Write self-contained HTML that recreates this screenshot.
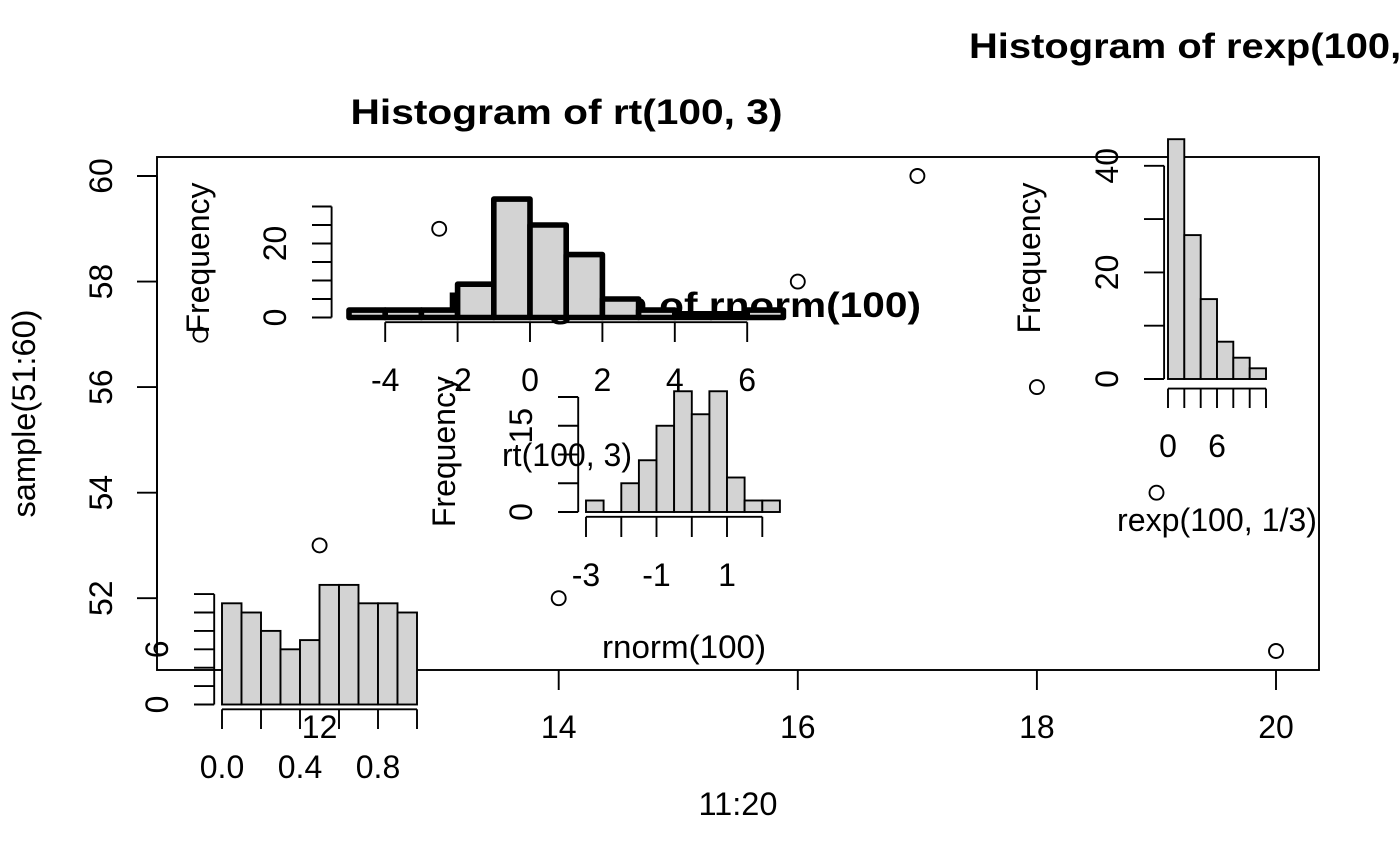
<!DOCTYPE html>
<html><head><meta charset="utf-8"><style>
html,body{margin:0;padding:0;background:#fff;width:1400px;height:866px;overflow:hidden}
svg{display:block}
text{font-family:"Liberation Sans",Arial,sans-serif;font-size:32px;fill:#000}
.b{font-weight:bold;font-size:35px}
</style></head><body>
<svg width="1400" height="866" viewBox="0 0 1400 866" xmlns="http://www.w3.org/2000/svg">
<rect x="0" y="0" width="1400" height="866" fill="#fff"/>
<g stroke="#000" stroke-width="1.9" fill="none">
<rect x="157" y="157" width="1162" height="513"/>
<line x1="157" y1="176" x2="157" y2="598.2"/>
<line x1="137" y1="176" x2="157" y2="176"/>
<line x1="137" y1="281.6" x2="157" y2="281.6"/>
<line x1="137" y1="387.1" x2="157" y2="387.1"/>
<line x1="137" y1="492.7" x2="157" y2="492.7"/>
<line x1="137" y1="598.2" x2="157" y2="598.2"/>
<line x1="319.6" y1="670" x2="319.6" y2="690"/>
<line x1="558.7" y1="670" x2="558.7" y2="690"/>
<line x1="797.8" y1="670" x2="797.8" y2="690"/>
<line x1="1036.9" y1="670" x2="1036.9" y2="690"/>
<line x1="1276" y1="670" x2="1276" y2="690"/>
<circle cx="200.4" cy="334.7" r="7"/>
<circle cx="319.6" cy="545.4" r="7"/>
<circle cx="439.2" cy="228.8" r="7"/>
<circle cx="558.7" cy="598.2" r="7"/>
<circle cx="678.3" cy="440" r="7"/>
<circle cx="797.8" cy="281.6" r="7"/>
<circle cx="917.4" cy="176" r="7"/>
<circle cx="1036.9" cy="387.1" r="7"/>
<circle cx="1156.5" cy="492.7" r="7"/>
<circle cx="1276" cy="651" r="7"/>
</g>
<g text-anchor="middle">
<text transform="translate(112,176) rotate(-90)">60</text>
<text transform="translate(112,281.6) rotate(-90)">58</text>
<text transform="translate(112,387.1) rotate(-90)">56</text>
<text transform="translate(112,492.7) rotate(-90)">54</text>
<text transform="translate(112,598.2) rotate(-90)">52</text>
<text x="319.6" y="738">12</text>
<text x="558.7" y="738">14</text>
<text x="797.8" y="738">16</text>
<text x="1036.9" y="738">18</text>
<text x="1276" y="738">20</text>
<text x="738" y="815" textLength="79" lengthAdjust="spacingAndGlyphs">11:20</text>
<text transform="translate(35,413.5) rotate(-90)" textLength="208" lengthAdjust="spacingAndGlyphs">sample(51:60)</text>
</g>

<text class="b" x="684" y="317" text-anchor="middle" textLength="474" lengthAdjust="spacingAndGlyphs">Histogram of rnorm(100)</text>
<g stroke="#000" stroke-width="1.9" fill="#d3d3d3">
<rect x="586" y="500.5" width="17.6" height="11.5"/>
<line x1="603.6" y1="512" x2="621.3" y2="512"/>
<rect x="621.3" y="483.25" width="17.6" height="28.75"/>
<rect x="638.9" y="460.25" width="17.6" height="51.75"/>
<rect x="656.5" y="425.75" width="17.6" height="86.25"/>
<rect x="674.1" y="391.25" width="17.7" height="120.75"/>
<rect x="691.8" y="414.25" width="17.6" height="97.75"/>
<rect x="709.4" y="391.25" width="17.6" height="120.75"/>
<rect x="727" y="477.5" width="17.6" height="34.5"/>
<rect x="744.6" y="500.5" width="17.7" height="11.5"/>
<rect x="762.3" y="500.5" width="17.6" height="11.5"/>
</g>
<g stroke="#000" stroke-width="1.9" fill="none">
<line x1="578.2" y1="397" x2="578.2" y2="512"/>
<line x1="558" y1="512" x2="578.2" y2="512"/>
<line x1="558" y1="483.25" x2="578.2" y2="483.25"/>
<line x1="558" y1="454.5" x2="578.2" y2="454.5"/>
<line x1="558" y1="425.75" x2="578.2" y2="425.75"/>
<line x1="558" y1="397" x2="578.2" y2="397"/>
<line x1="586" y1="516.8" x2="762.3" y2="516.8"/>
<line x1="586" y1="516.8" x2="586" y2="537"/>
<line x1="621.3" y1="516.8" x2="621.3" y2="537"/>
<line x1="656.5" y1="516.8" x2="656.5" y2="537"/>
<line x1="691.8" y1="516.8" x2="691.8" y2="537"/>
<line x1="727" y1="516.8" x2="727" y2="537"/>
<line x1="762.3" y1="516.8" x2="762.3" y2="537"/>
</g>
<g text-anchor="middle">
<text transform="translate(532,512) rotate(-90)">0</text>
<text transform="translate(532,425.75) rotate(-90)">15</text>
<text x="586" y="586">-3</text>
<text x="656.5" y="586">-1</text>
<text x="727" y="586">1</text>
<text transform="translate(455,451.6) rotate(-90)" textLength="151" lengthAdjust="spacingAndGlyphs">Frequency</text>
<text x="684" y="658" textLength="164" lengthAdjust="spacingAndGlyphs">rnorm(100)</text>
</g>

<text class="b" x="566.5" y="124" text-anchor="middle" textLength="432" lengthAdjust="spacingAndGlyphs">Histogram of rt(100, 3)</text>
<g stroke="#000" stroke-width="5.6" fill="#d3d3d3" stroke-linejoin="round" stroke-linecap="round">
<rect x="349" y="310.1" width="36.2" height="7.4"/>
<rect x="385.2" y="310.1" width="36.2" height="7.4"/>
<rect x="421.4" y="310.1" width="36.2" height="7.4"/>
<rect x="457.6" y="284.2" width="36.2" height="33.3"/>
<rect x="493.8" y="199.1" width="36.2" height="118.4"/>
<rect x="530" y="225" width="36.2" height="92.5"/>
<rect x="566.2" y="254.6" width="36.2" height="62.9"/>
<rect x="602.4" y="299" width="36.2" height="18.5"/>
<rect x="638.6" y="310.1" width="36.2" height="7.4"/>
<rect x="674.8" y="313.8" width="36.2" height="3.7"/>
<rect x="711" y="313.8" width="36.2" height="3.7"/>
<rect x="747.2" y="310.1" width="36.2" height="7.4"/>
</g>
<g stroke="#000" stroke-width="1.9" fill="none">
<line x1="331.6" y1="206.5" x2="331.6" y2="317.5"/>
<line x1="312" y1="317.5" x2="331.6" y2="317.5"/>
<line x1="312" y1="299" x2="331.6" y2="299"/>
<line x1="312" y1="280.5" x2="331.6" y2="280.5"/>
<line x1="312" y1="262" x2="331.6" y2="262"/>
<line x1="312" y1="243.5" x2="331.6" y2="243.5"/>
<line x1="312" y1="225" x2="331.6" y2="225"/>
<line x1="312" y1="206.5" x2="331.6" y2="206.5"/>
<line x1="385.2" y1="322.2" x2="747.2" y2="322.2"/>
<line x1="385.2" y1="322.2" x2="385.2" y2="342"/>
<line x1="457.6" y1="322.2" x2="457.6" y2="342"/>
<line x1="530" y1="322.2" x2="530" y2="342"/>
<line x1="602.4" y1="322.2" x2="602.4" y2="342"/>
<line x1="674.8" y1="322.2" x2="674.8" y2="342"/>
<line x1="747.2" y1="322.2" x2="747.2" y2="342"/>
</g>
<g text-anchor="middle">
<text transform="translate(286,317.5) rotate(-90)">0</text>
<text transform="translate(286,243.5) rotate(-90)">20</text>
<text x="385.2" y="391">-4</text>
<text x="457.6" y="391">-2</text>
<text x="530" y="391">0</text>
<text x="602.4" y="391">2</text>
<text x="674.8" y="391">4</text>
<text x="747.2" y="391">6</text>
<text transform="translate(209,258) rotate(-90)" textLength="151" lengthAdjust="spacingAndGlyphs">Frequency</text>
<text x="567" y="466" textLength="130" lengthAdjust="spacingAndGlyphs">rt(100, 3)</text>
</g>

<text class="b" x="969" y="58" textLength="512" lengthAdjust="spacingAndGlyphs">Histogram of rexp(100, 1/3)</text>
<g stroke="#000" stroke-width="1.9" fill="#d3d3d3">
<rect x="1168" y="139.2" width="16.3" height="239.8"/>
<rect x="1184.3" y="235.1" width="16.4" height="143.9"/>
<rect x="1200.7" y="299.1" width="16.3" height="79.9"/>
<rect x="1217" y="341.7" width="16.3" height="37.3"/>
<rect x="1233.3" y="357.7" width="16.4" height="21.3"/>
<rect x="1249.7" y="368.3" width="16.3" height="10.7"/>
</g>
<g stroke="#000" stroke-width="1.9" fill="none">
<line x1="1164.1" y1="165.8" x2="1164.1" y2="379"/>
<line x1="1144" y1="379" x2="1164.1" y2="379"/>
<line x1="1144" y1="325.7" x2="1164.1" y2="325.7"/>
<line x1="1144" y1="272.4" x2="1164.1" y2="272.4"/>
<line x1="1144" y1="219.1" x2="1164.1" y2="219.1"/>
<line x1="1144" y1="165.8" x2="1164.1" y2="165.8"/>
<line x1="1168" y1="388.6" x2="1266" y2="388.6"/>
<line x1="1168" y1="388.6" x2="1168" y2="408"/>
<line x1="1184.3" y1="388.6" x2="1184.3" y2="408"/>
<line x1="1200.7" y1="388.6" x2="1200.7" y2="408"/>
<line x1="1217" y1="388.6" x2="1217" y2="408"/>
<line x1="1233.3" y1="388.6" x2="1233.3" y2="408"/>
<line x1="1249.7" y1="388.6" x2="1249.7" y2="408"/>
<line x1="1266" y1="388.6" x2="1266" y2="408"/>
</g>
<g text-anchor="middle">
<text transform="translate(1118,379) rotate(-90)">0</text>
<text transform="translate(1118,272.4) rotate(-90)">20</text>
<text transform="translate(1118,165.8) rotate(-90)">40</text>
<text x="1168" y="457">0</text>
<text x="1217" y="457">6</text>
<text transform="translate(1040,258) rotate(-90)" textLength="151" lengthAdjust="spacingAndGlyphs">Frequency</text>
<text x="1217" y="531" textLength="200" lengthAdjust="spacingAndGlyphs">rexp(100, 1/3)</text>
</g>

<g stroke="#000" stroke-width="1.9" fill="#d3d3d3">
<rect x="222" y="603.3" width="19.5" height="101.2"/>
<rect x="241.5" y="612.5" width="19.5" height="92"/>
<rect x="261" y="630.9" width="19.5" height="73.6"/>
<rect x="280.5" y="649.3" width="19.5" height="55.2"/>
<rect x="300" y="640.1" width="19.5" height="64.4"/>
<rect x="319.5" y="584.9" width="19.5" height="119.6"/>
<rect x="339" y="584.9" width="19.5" height="119.6"/>
<rect x="358.5" y="603.3" width="19.5" height="101.2"/>
<rect x="378" y="603.3" width="19.5" height="101.2"/>
<rect x="397.5" y="612.5" width="19.5" height="92"/>
</g>
<g stroke="#000" stroke-width="1.9" fill="none">
<line x1="214.2" y1="594.1" x2="214.2" y2="704.5"/>
<line x1="194" y1="704.5" x2="214.2" y2="704.5"/>
<line x1="194" y1="686.1" x2="214.2" y2="686.1"/>
<line x1="194" y1="667.7" x2="214.2" y2="667.7"/>
<line x1="194" y1="649.3" x2="214.2" y2="649.3"/>
<line x1="194" y1="630.9" x2="214.2" y2="630.9"/>
<line x1="194" y1="612.5" x2="214.2" y2="612.5"/>
<line x1="194" y1="594.1" x2="214.2" y2="594.1"/>
<line x1="222" y1="709.3" x2="417" y2="709.3"/>
<line x1="222" y1="709.3" x2="222" y2="729"/>
<line x1="261" y1="709.3" x2="261" y2="729"/>
<line x1="300" y1="709.3" x2="300" y2="729"/>
<line x1="339" y1="709.3" x2="339" y2="729"/>
<line x1="378" y1="709.3" x2="378" y2="729"/>
<line x1="417" y1="709.3" x2="417" y2="729"/>
</g>
<g text-anchor="middle">
<text transform="translate(168,704.5) rotate(-90)">0</text>
<text transform="translate(168,649.3) rotate(-90)">6</text>
<text x="222" y="778">0.0</text>
<text x="300" y="778">0.4</text>
<text x="378" y="778">0.8</text>
</g>
</svg>
</body></html>
